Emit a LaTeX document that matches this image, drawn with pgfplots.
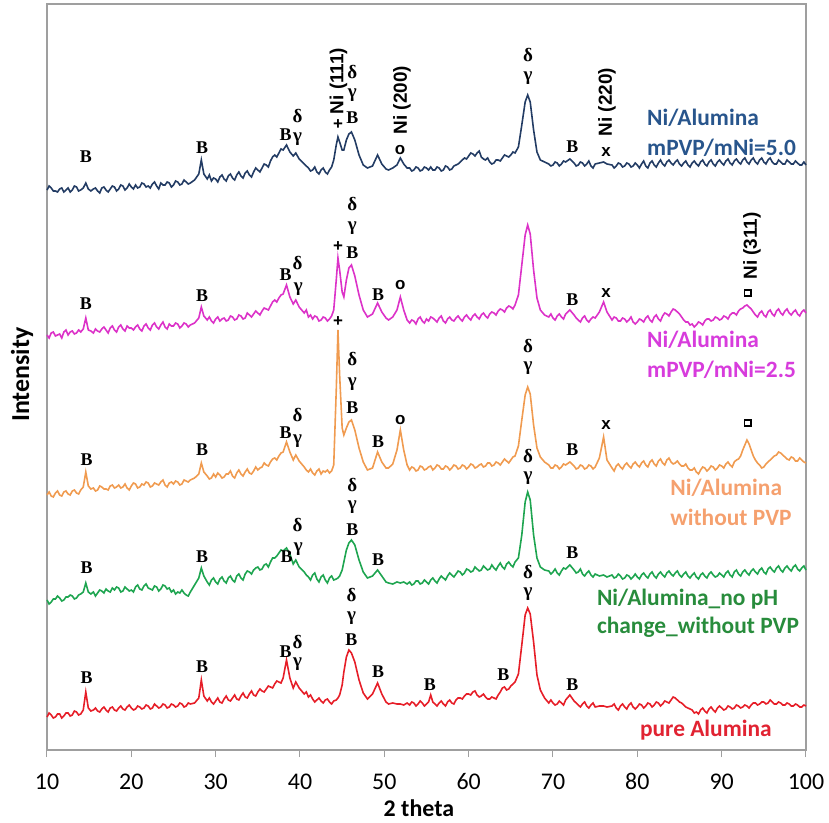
\documentclass[border=0pt]{standalone}
\usepackage{pgfplots}
\usepackage{pgfplotstable}
\pgfplotsset{compat=1.18}
\usepackage{fontspec}
\setmainfont{Liberation Serif}
\newfontfamily\carl{Carlito}
\newfontfamily\arialf{Liberation Sans}
\definecolor{cblue}{RGB}{35,60,100}
\definecolor{cmag}{RGB}{220,50,200}
\definecolor{corange}{RGB}{240,155,80}
\definecolor{cgreen}{RGB}{30,165,80}
\definecolor{cred}{RGB}{230,30,40}
\definecolor{tblue}{RGB}{40,85,140}
\definecolor{tmag}{RGB}{215,60,220}
\definecolor{torange}{RGB}{245,160,110}
\definecolor{tgreen}{RGB}{40,140,60}
\definecolor{tred}{RGB}{225,35,50}

\pgfplotstableread{
x R G O M B
10.0 33 150 255 415 560
10.25 37 146 258 412 564
10.5 35 148 254 417 562
10.75 32 151 253 418 559
11.0 33 151 257 414 559
11.25 36 154 259 415 558
11.5 36 152 255 416 561
11.75 32 149 254 412 562
12.0 34 150 258 418 558
12.25 37 153 259 420 560
12.5 37 153 256 415 562
12.75 34 155 255 418 558
13.0 35 154 259 419 560
13.25 39 151 260 416 564
13.5 38 152 257 417 563
13.75 35 155 256 420 559
14.0 36 156 260 418 560
14.3 40 158 263 421 562
14.6 58 167 278 432 567
14.9 42 158 264 420 561
15.2 39 156 261 419 559
15.5 40 158 262 417 561
15.75 42 154 259 421 562
16.0 39 157 260 419 559
16.25 38 160 264 418 557
16.5 41 159 263 421 562
16.75 43 157 261 423 563
17.0 40 161 261 420 560
17.25 38 159 260 417 558
17.5 42 158 264 422 561
17.75 43 162 265 424 564
18.0 40 160 262 420 563
18.25 39 163 263 418 559
18.5 42 162 265 423 561
18.75 44 158 262 425 565
19.0 41 159 263 421 564
19.25 40 163 266 419 560
19.5 43 161 262 424 562
19.75 45 159 260 422 566
20.0 42 160 264 422 563
20.25 40 158 267 420 561
20.5 41 163 266 423 565
20.75 44 165 262 425 562
21.0 43 161 263 421 563
21.25 41 160 266 419 567
21.5 42 164 265 424 566
21.75 45 166 268 426 563
22.0 44 162 267 422 564
22.25 41 161 263 420 562
22.5 42 160 264 425 566
22.75 46 164 267 427 568
23.0 44 163 266 423 564
23.25 42 159 265 421 561
23.5 43 161 268 425 567
23.75 46 165 270 428 565
24.0 45 164 265 423 565
24.25 42 161 263 421 568
24.5 43 162 267 426 567
24.75 46 158 268 424 563
25.0 45 160 266 424 565
25.25 43 156 269 427 569
25.5 44 158 268 426 568
25.75 47 157 265 422 565
26.0 46 160 266 424 566
26.25 43 157 270 427 570
26.5 44 155 269 426 568
26.75 47 154 268 423 566
27.0 46 158 270 425 567
27.5 47 165 272 427 570
28.0 52 172 276 432 576
28.3 70 182 287 443 590
28.6 54 174 278 434 576
29.0 49 168 274 430 571
29.25 52 165 271 433 575
29.5 48 170 272 429 569
29.75 46 172 276 427 572
30.0 49 168 273 431 571
30.25 52 166 277 433 568
30.5 48 171 275 429 573
30.75 47 173 272 431 575
31.0 51 169 273 432 571
31.25 54 167 276 429 569
31.5 50 172 276 430 574
31.75 49 174 279 434 576
32.0 52 170 274 433 572
32.25 55 168 272 430 570
32.5 51 174 277 431 575
32.75 50 176 280 435 578
33.0 54 172 276 434 574
33.25 57 170 274 431 572
33.5 53 176 278 432 577
33.75 52 179 281 437 579
34.0 56 178 277 435 575
34.25 59 176 276 433 573
34.5 55 180 279 436 578
34.75 54 182 283 439 582
35.0 58 183 280 437 580
35.25 61 180 282 435 578
35.5 59 181 283 439 582
35.75 58 185 287 442 586
36.0 61 186 285 441 585
36.25 64 183 284 440 583
36.5 63 188 288 444 589
36.75 62 192 291 448 593
37.0 66 192 292 450 595
37.25 69 194 290 448 593
37.5 68 197 294 452 597
37.75 67 200 297 455 601
38.0 72 199 298 456 600
38.4 90 202 308 465 605
38.8 72 196 298 453 598
39.2 62 186 290 446 594
39.5 68 190 295 450 597
39.9 62 183 289 443 591
40.5 56 178 283 437 586
40.75 58 175 280 440 584
41.0 53 173 278 433 582
41.25 55 170 281 435 579
41.5 51 175 277 431 580
41.75 48 177 275 434 583
42.0 50 171 279 433 578
42.25 52 168 281 429 576
42.5 49 173 276 430 580
42.75 47 175 279 433 582
43.0 50 170 278 432 578
43.25 51 167 280 429 576
43.5 48 172 277 431 580
43.75 46 174 279 434 583
44.0 49 170 285 440 590
44.3 50 171 360 470 605
44.5 52 172 420 492 613
44.7 55 174 375 480 608
45.0 65 180 322 458 600
45.2 78 188 315 453 600
45.5 93 200 322 470 610
45.8 100 207 328 482 616
46.1 97 210 330 485 618
46.5 88 205 320 474 610
47.0 70 190 302 455 595
47.5 57 178 288 440 585
48.0 51 172 280 433 582
48.6 56 174 282 436 584
49.2 67 180 298 447 595
49.7 56 174 288 438 586
50.2 48 168 282 432 581
50.5 46 167 282 430 580
51.0 47 166 286 433 582
51.5 46 168 300 440 585
51.9 46 167 320 453 592
52.3 45 168 300 440 586
52.7 47 166 285 430 582
53.0 45 168 280 427 582
53.25 48 165 283 430 579
53.5 47 166 282 429 580
53.75 44 169 279 426 583
54.0 46 169 280 431 582
54.25 49 166 284 433 579
54.5 47 167 283 429 580
54.75 44 170 280 427 583
55.0 46 168 281 431 582
55.25 48 166 283 429 580
55.5 55 170 284 433 583
55.75 48 172 280 432 580
56.0 46 169 282 430 580
56.25 44 167 285 428 583
56.5 47 171 284 432 582
56.75 49 174 281 434 579
57.0 46 172 281 429 580
57.25 44 170 284 427 584
57.5 48 174 283 431 583
57.75 50 177 280 433 580
58.0 47 175 282 430 581
58.25 46 173 285 429 584
58.5 50 176 284 432 585
58.75 52 179 281 434 586
59.0 52 178 282 431 588
59.25 51 175 285 429 590
59.5 54 177 284 433 592
59.75 56 181 281 435 591
60.0 56 180 283 432 594
60.25 55 178 286 430 597
60.5 58 179 285 434 596
60.75 59 183 282 436 594
61.0 55 181 283 433 597
61.25 53 179 285 431 599
61.5 54 180 286 435 593
61.75 56 184 283 437 591
62.0 53 182 284 434 590
62.25 51 180 287 432 592
62.5 51 181 287 436 588
62.75 53 185 284 438 586
63.0 52 182 285 437 587
63.25 51 180 288 435 590
63.5 55 184 287 439 590
63.75 58 187 285 441 589
64.0 62 183 288 440 592
64.25 63 181 291 438 595
64.5 60 186 289 442 594
64.75 61 188 287 444 593
65.0 64 185 290 443 595
65.25 66 183 293 441 598
65.5 68 188 294 445 597
65.9 76 192 304 455 603
66.3 105 215 330 485 625
66.7 135 248 355 515 648
67.0 142 258 363 525 655
67.3 136 250 356 516 648
67.7 108 215 325 480 620
68.1 75 192 302 452 598
68.5 60 183 293 440 590
69.0 52 180 288 435 588
69.5 47 179 285 433 586
69.75 50 176 282 436 584
70.0 47 178 282 432 585
70.25 45 181 285 430 588
70.5 46 177 284 434 587
70.75 49 175 281 436 584
71.0 47 179 283 433 586
71.25 45 182 286 431 589
71.5 50 181 285 436 588
72.0 55 185 288 440 591
72.5 49 180 284 435 587
72.75 47 177 281 432 584
73.0 45 178 282 430 585
73.25 43 181 285 428 588
73.5 46 176 284 432 587
73.75 48 174 281 434 584
74.0 44 177 282 430 586
74.25 42 179 285 428 589
74.5 45 175 284 431 584
74.75 47 173 281 433 582
75.0 43 176 283 432 586
75.5 44 174 292 438 587
76.0 44 175 313 448 588
76.4 43 173 290 438 586
77.0 44 175 282 430 585
77.25 46 172 279 433 582
77.5 42 173 284 432 584
77.75 40 176 286 429 587
78.0 44 174 283 429 586
78.25 46 171 281 432 583
78.5 43 172 285 431 584
78.75 41 175 287 428 587
79.0 45 174 284 430 586
79.25 47 171 282 433 583
79.5 43 173 286 428 584
79.75 41 176 288 426 587
80.0 43 173 285 428 585
80.25 46 171 283 431 582
80.5 45 175 287 430 586
80.75 42 177 289 428 589
81.0 44 174 285 432 584
81.25 47 172 283 434 582
81.5 46 176 288 430 587
81.75 43 178 290 428 589
82.0 45 174 286 433 585
82.25 48 172 284 435 583
82.5 47 176 289 431 587
82.75 44 178 291 429 590
83.0 46 175 287 434 586
83.25 49 173 285 437 584
83.5 48 177 290 436 588
83.75 47 179 292 434 590
84.0 50 176 288 438 587
84.25 53 174 286 441 585
84.5 52 177 287 440 588
84.75 50 179 289 438 590
85.0 48 175 286 436 586
85.25 47 173 284 433 584
85.5 45 176 284 430 587
85.75 43 178 286 428 589
86.0 42 174 282 428 585
86.25 41 172 280 425 583
86.5 40 175 280 426 587
86.75 37 177 282 423 589
87.0 38 173 278 425 586
87.25 36 171 276 428 584
87.5 40 175 280 427 588
87.75 42 177 283 425 590
88.0 39 174 282 429 586
88.25 37 172 279 431 584
88.5 41 176 281 431 588
88.75 43 178 284 429 590
89.0 40 175 283 430 586
89.25 38 173 280 433 584
89.5 42 174 282 432 588
89.75 44 177 285 430 590
90.0 42 175 284 431 587
90.25 40 173 282 434 585
90.5 41 177 286 433 589
90.75 44 179 288 431 591
91.0 43 175 285 435 587
91.25 41 173 283 437 585
91.5 42 178 288 437 589
91.75 45 180 290 435 591
92.0 44 176 291 439 588
92.25 42 174 294 441 586
92.5 43 178 300 442 590
92.75 45 180 305 444 592
93.0 44 177 310 445 588
93.25 42 175 306 443 586
93.5 45 179 300 441 590
93.75 47 181 294 438 592
94.0 47 178 290 435 588
94.25 45 176 287 433 586
94.5 46 180 285 437 590
94.75 48 182 282 439 592
95.0 48 178 283 435 588
95.25 46 176 286 433 586
95.5 47 181 288 438 590
95.75 50 183 290 440 592
96.0 48 180 292 436 588
96.25 46 178 294 434 586
96.5 46 182 295 439 586
96.75 48 184 298 441 590
97.0 47 180 297 437 588
97.25 45 178 295 435 586
97.5 45 182 293 439 586
97.75 47 184 291 441 590
98.0 46 181 290 437 588
98.25 44 179 293 435 586
98.5 44 183 292 438 586
98.75 46 185 289 440 589
99.0 45 181 289 436 587
99.25 43 179 292 434 585
99.5 43 182 290 438 585
99.75 45 184 288 440 588
100.0 44 180 287 437 585
}\xrd

\tikzset{
  ann/.style={font=\bfseries\fontsize{18}{18}\selectfont, inner sep=0pt},
  gr/.style={font=\bfseries\fontsize{19}{19}\selectfont, inner sep=0pt},
  sym/.style={font=\arialf\bfseries\fontsize{17}{17}\selectfont, inner sep=0pt},
  rot/.style={font=\arialf\bfseries\fontsize{19}{19}\selectfont, rotate=90, inner sep=0pt},
  lab/.style={font=\carl\bfseries\fontsize{23.5}{28}\selectfont, anchor=west, inner sep=0pt},
  sq/.style={draw, line width=1.6bp, minimum size=6.5bp, inner sep=0pt}
}
\newcommand{\an}[3]{\node[ann] at (axis cs:#1,#2) {#3};}
\newcommand{\gdel}[2]{\node[gr] at (axis cs:#1,#2) {δ};}
\newcommand{\ggam}[2]{\node[gr] at (axis cs:#1,#2) {γ};}

\begin{document}
\begin{tikzpicture}
\useasboundingbox (-47bp,-73bp) rectangle (782bp,750bp);
\begin{axis}[
  at={(0,0)}, anchor=south west,
  scale only axis, width=759bp, height=746bp,
  xmin=10, xmax=100, ymin=0, ymax=746,
  xtick={10,20,...,100}, ytick=\empty,
  xtick pos=lower, tick align=outside, major tick length=7bp,
  axis line style={draw=gray!75, line width=1.3bp},
  x tick style={draw=gray!75, line width=1bp},
  ticklabel style={font=\carl\fontsize{24}{26}\selectfont},
  /pgf/number format/assume math mode=true,
  xticklabel shift=13bp,
  xlabel={2 theta}, ylabel={Intensity},
  every axis x label/.style={at={(axis description cs:0.49,0)}, anchor=center, yshift=-58bp, font=\carl\bfseries\fontsize{24}{26}\selectfont},
  every axis y label/.style={at={(axis description cs:-0.033,0.503)}, rotate=90, anchor=center, font=\carl\bfseries\fontsize{26}{28}\selectfont},
  clip=false,
]
\addplot[cred, line width=1.6bp] table[x=x,y=R]{\xrd};
\addplot[cgreen, line width=1.6bp] table[x=x,y=G]{\xrd};
\addplot[corange, line width=1.6bp] table[x=x,y=O]{\xrd};
\addplot[cmag, line width=1.6bp] table[x=x,y=M]{\xrd};
\addplot[cblue, line width=1.6bp] table[x=x,y=B]{\xrd};

% blue series annotations
\an{14.6}{593}{B}
\an{28.4}{602}{B}
\an{38.3}{615}{B}
\ggam{39.7}{611}
\gdel{39.7}{634}
\node[sym] at (axis cs:44.5,625) {+};
\node[rot] at (axis cs:44.55,669) {Ni (111)};
\gdel{46.2}{678}
\ggam{46.2}{655}
\an{46.2}{632}{B}
\node[sym] at (axis cs:51.85,600) {o};
\node[rot] at (axis cs:52.1,650) {Ni (200)};
\gdel{67.04}{695}
\ggam{67.04}{672}
\an{72.3}{603}{B}
\node[sym] at (axis cs:76.3,598) {x};
\node[rot] at (axis cs:76.4,648) {Ni (220)};
\node[lab, text=tblue] at (axis cs:81.15,632) {Ni/Alumina};
\node[lab, text=tblue] at (axis cs:81.15,602) {mPVP/mNi=5.0};

% magenta series annotations
\an{14.6}{446}{B}
\an{28.4}{454}{B}
\an{38.3}{475}{B}
\ggam{39.8}{461}
\gdel{39.7}{487}
\node[sym] at (axis cs:44.5,503) {+};
\gdel{46.2}{546}
\ggam{46.2}{522}
\an{46.2}{497}{B}
\an{49.25}{455}{B}
\node[sym] at (axis cs:51.9,465) {o};
\an{72.3}{450}{B}
\node[sym] at (axis cs:76.3,457) {x};
\node[sq] at (axis cs:93.1,457) {};
\node[rot] at (axis cs:93.6,504) {Ni (311)};
\node[lab, text=tmag] at (axis cs:81.15,410) {Ni/Alumina};
\node[lab, text=tmag] at (axis cs:81.15,380) {mPVP/mNi=2.5};

% orange series annotations
\an{14.7}{290}{B}
\an{28.4}{300}{B}
\an{38.3}{317}{B}
\ggam{39.7}{309}
\gdel{39.7}{335}
\node[sym] at (axis cs:44.5,428) {+};
\gdel{46.2}{391}
\ggam{46.2}{366}
\an{46.2}{342}{B}
\an{49.25}{308}{B}
\node[sym] at (axis cs:51.9,330) {o};
\gdel{67.04}{404}
\ggam{67.04}{382}
\an{72.3}{300}{B}
\node[sym] at (axis cs:76.3,325) {x};
\node[sq] at (axis cs:93.1,327) {};
\node[lab, text=torange] at (axis cs:83.9,262) {Ni/Alumina};
\node[lab, text=torange] at (axis cs:83.9,233) {without PVP};

% green series annotations
\an{14.7}{182}{B}
\an{28.4}{193}{B}
\an{38.4}{193}{B}
\ggam{39.8}{201}
\gdel{39.7}{225}
\gdel{46.2}{265}
\ggam{46.2}{243}
\an{46.2}{220}{B}
\an{49.25}{190}{B}
\gdel{67.04}{294}
\ggam{67.04}{272}
\an{72.3}{197}{B}
\node[lab, text=tgreen] at (axis cs:75.2,151) {Ni/Alumina\_no pH};
\node[lab, text=tgreen] at (axis cs:75.2,123) {change\_without PVP};

% red series annotations
\an{14.7}{72}{B}
\an{28.4}{83}{B}
\an{38.3}{98}{B}
\ggam{39.7}{86}
\gdel{39.7}{108}
\gdel{46.1}{155}
\ggam{46.1}{132}
\an{46.1}{110}{B}
\an{49.25}{78}{B}
\an{55.4}{65}{B}
\an{64.1}{75}{B}
\gdel{67.04}{178}
\ggam{67.04}{156}
\an{72.3}{65}{B}
\node[lab, text=tred] at (axis cs:80.3,20) {pure Alumina};
\end{axis}
\end{tikzpicture}
\end{document}
